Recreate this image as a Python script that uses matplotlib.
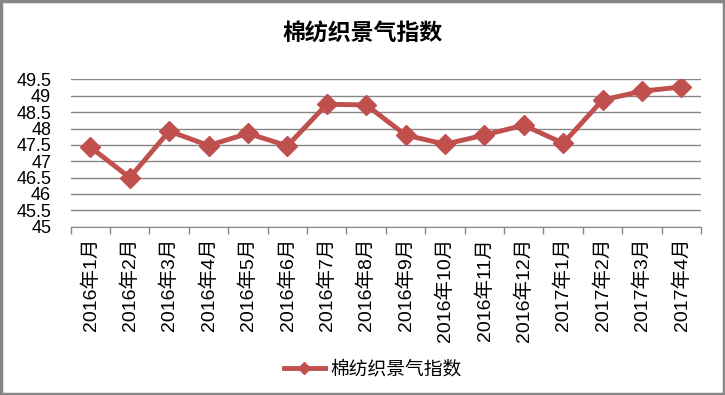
import matplotlib
matplotlib.use("Agg")
import matplotlib.pyplot as plt
from matplotlib.patches import Rectangle
import numpy as np

plt.rcParams['font.family'] = ['Liberation Sans', 'Noto Sans CJK SC', 'DejaVu Sans']

# data
months = ['2016年1月', '2016年2月', '2016年3月', '2016年4月', '2016年5月', '2016年6月',
          '2016年7月', '2016年8月', '2016年9月', '2016年10月', '2016年11月', '2016年12月',
          '2017年1月', '2017年2月', '2017年3月', '2017年4月']
index_vals = [47.43, 46.5, 47.92, 47.48, 47.85, 47.47, 48.74, 48.72,
              47.8, 47.52, 47.8, 48.1, 47.55, 48.87, 49.14, 49.27]
series_name = '棉纺织景气指数'
yticks = [45, 45.5, 46, 46.5, 47, 47.5, 48, 48.5, 49, 49.5]

fig = plt.figure(figsize=(7.25, 3.95), dpi=100)
ax = fig.add_axes([0.0975, 0.426, 0.8695, 0.373])

x = np.arange(len(months))
ax.plot(x, index_vals, color='#C0504D', lw=3.5, marker='D', ms=10,
        markeredgecolor='#C0504D', zorder=3)
# legend proxy with a smaller marker, as in the original
ax.plot([], [], color='#C0504D', lw=3.5, marker='D', ms=6, label=series_name)

ax.set_xlim(-0.5, len(months) - 0.5)
ax.set_ylim(45, 49.5)
ax.set_yticks(yticks)
ax.set_yticklabels([f'{v:g}' for v in yticks], fontsize=13)
ax.yaxis.grid(True, color='#868686', lw=1)
ax.set_axisbelow(True)
ax.tick_params(axis='y', length=0, pad=14)

ax.set_xticks(x)
ax.set_xticklabels(months, rotation=90, fontsize=14)
ax.set_xticks(np.arange(-0.5, len(months)), minor=True)
ax.tick_params(axis='x', which='major', length=0, pad=8)
ax.tick_params(axis='x', which='minor', length=5, color='#868686', width=1)

for s in ['left', 'right', 'top']:
    ax.spines[s].set_visible(False)
ax.spines['bottom'].set_color('#868686')

fig.text(0.5, 0.915, series_name, ha='center', va='center', fontsize=16.5, fontweight='bold')

fig.legend(loc='center', bbox_to_anchor=(0.514, 0.065), frameon=False, fontsize=13.5,
           handlelength=2.2, handletextpad=0.3)

# outer chart border
fig.patches.append(Rectangle((0.002, 0.003), 0.996, 0.994, transform=fig.transFigure,
                             fill=False, ec='#868686', lw=2.5))

fig.savefig('out.png', dpi=100)
